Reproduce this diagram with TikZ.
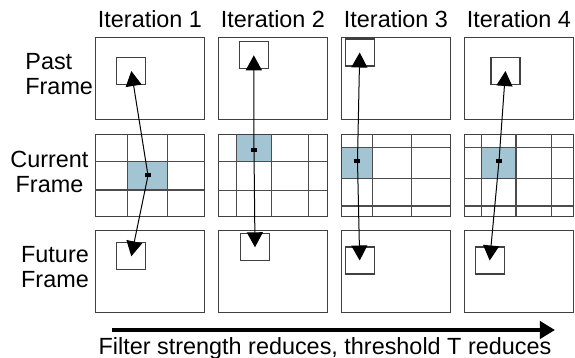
\documentclass[tikz,border=0pt]{standalone}
\usepackage{fontspec}
\setmainfont{Liberation Sans}
\usetikzlibrary{arrows.meta}
\definecolor{cellblue}{RGB}{163,196,211}
\tikzset{
	txt/.style={font=\fontsize{11.7}{12.5}\selectfont, inner sep=0pt},
	frame/.style={draw=black!75, line width=0.6pt, minimum width=54.5pt, minimum height=41pt, inner sep=0pt},
	block/.style={draw=black!75, line width=0.6pt, minimum width=14.5pt, minimum height=13.5pt, inner sep=0pt},
	cellline/.style={draw=black!70, line width=0.6pt},
	mvdot/.style={fill=black, minimum width=3pt, minimum height=2pt, inner sep=0pt},
	vec/.style={-{Triangle[length=7.5pt,width=8pt]}, line width=0.5pt},
	big/.style={-{Triangle[length=7.5pt,width=8.5pt]}, line width=2pt}
}
\begin{document}
\begin{tikzpicture}[x=0.5pt, y=-0.5pt]
				\useasboundingbox (0,0) rectangle (575,358);
				\node[txt, anchor=base] (I1) at (150,28) {Iteration 1};
				\node[txt, anchor=base] (I2) at (273,28) {Iteration 2};
				\node[txt, anchor=base] (I3) at (396,28) {Iteration 3};
				\node[txt, anchor=base] (I4) at (519,28) {Iteration 4};
				\node[txt, anchor=base west, align=left] (RP) at (25,95) {Past\\Frame};
				\node[txt, anchor=base, align=center] (RC) at (49.5,193) {Current\\Frame};
				\node[txt, anchor=base, align=center] (RF) at (55,287.5) {Future\\Frame};
				\fill[cellblue] (127.5,161.5) rectangle (167.5,190);
				\fill[cellblue] (236.5,134.5) rectangle (271.5,161.5);
				\fill[cellblue] (341.5,147.5) rectangle (372.5,178.5);
				\fill[cellblue] (481.5,147.5) rectangle (516,178.5);
				\node[frame] (P1) at (150,78.5) {};
				\node[frame] (P2) at (273,78.5) {};
				\node[frame] (P3) at (396,78.5) {};
				\node[frame] (P4) at (519,78.5) {};
				\node[frame] (C1) at (150,175.5) {};
				\node[frame] (C2) at (273,175.5) {};
				\node[frame] (C3) at (396,175.5) {};
				\node[frame] (C4) at (519,175.5) {};
				\node[frame] (F1) at (150,271.5) {};
				\node[frame] (F2) at (273,271.5) {};
				\node[frame] (F3) at (396,271.5) {};
				\node[frame] (F4) at (519,271.5) {};
				\draw[cellline] (127.5,134.5) -- (127.5,216.5) (167.5,134.5) -- (167.5,216.5);
				\draw[cellline] (95.5,161.5) -- (204.5,161.5) (95.5,190) -- (204.5,190);
				\draw[cellline] (236.5,134.5) -- (236.5,216.5) (271.5,134.5) -- (271.5,216.5) (308.5,134.5) -- (308.5,216.5);
				\draw[cellline] (218.5,161.5) -- (327.5,161.5) (218.5,190.5) -- (327.5,190.5);
				\draw[cellline] (372.5,134.5) -- (372.5,216.5) (411.5,134.5) -- (411.5,216.5);
				\draw[cellline] (341.5,147.5) -- (450.5,147.5) (341.5,178.5) -- (450.5,178.5) (341.5,206) -- (450.5,206);
				\draw[cellline] (481.5,134.5) -- (481.5,216.5) (516,134.5) -- (516,216.5) (551.5,134.5) -- (551.5,216.5);
				\draw[cellline] (464.5,147.5) -- (573.5,147.5) (464.5,178.5) -- (573.5,178.5) (464.5,206) -- (573.5,206);
				\node[block] (p1) at (131.3,71) {};
				\node[block] (p2) at (253.8,55.3) {};
				\node[block] (p3) at (359.7,52.5) {};
				\node[block] (p4) at (505.5,71) {};
				\node[block] (f1) at (131.3,256.3) {};
				\node[block] (f2) at (255,247.3) {};
				\node[block] (f3) at (359.7,260.5) {};
				\node[block] (f4) at (489.7,260.5) {};
				\node[mvdot] (D1) at (148,175.5) {};
				\node[mvdot] (D2) at (254,150) {};
				\node[mvdot] (D3) at (357.5,161) {};
				\node[mvdot] (D4) at (499,161) {};
				\draw[vec] (D1.center) -- (p1.center);
				\draw[vec] (D1.center) -- (f1.center);
				\draw[vec] (D2.center) -- (p2.center);
				\draw[vec] (D2.center) -- (f2.center);
				\draw[vec] (D3.center) -- (p3.center);
				\draw[vec] (D3.center) -- (f3.center);
				\draw[vec] (D4.center) -- (p4.center);
				\draw[vec] (D4.center) -- (f4.center);
				\coordinate (S) at (112,330);
				\coordinate (E) at (555,330);
				\draw[big] (S) -- (E);
				\node[txt, anchor=base] (T) at (325,355) {Filter strength reduces, threshold T reduces};
				\end{tikzpicture}
\end{document}
